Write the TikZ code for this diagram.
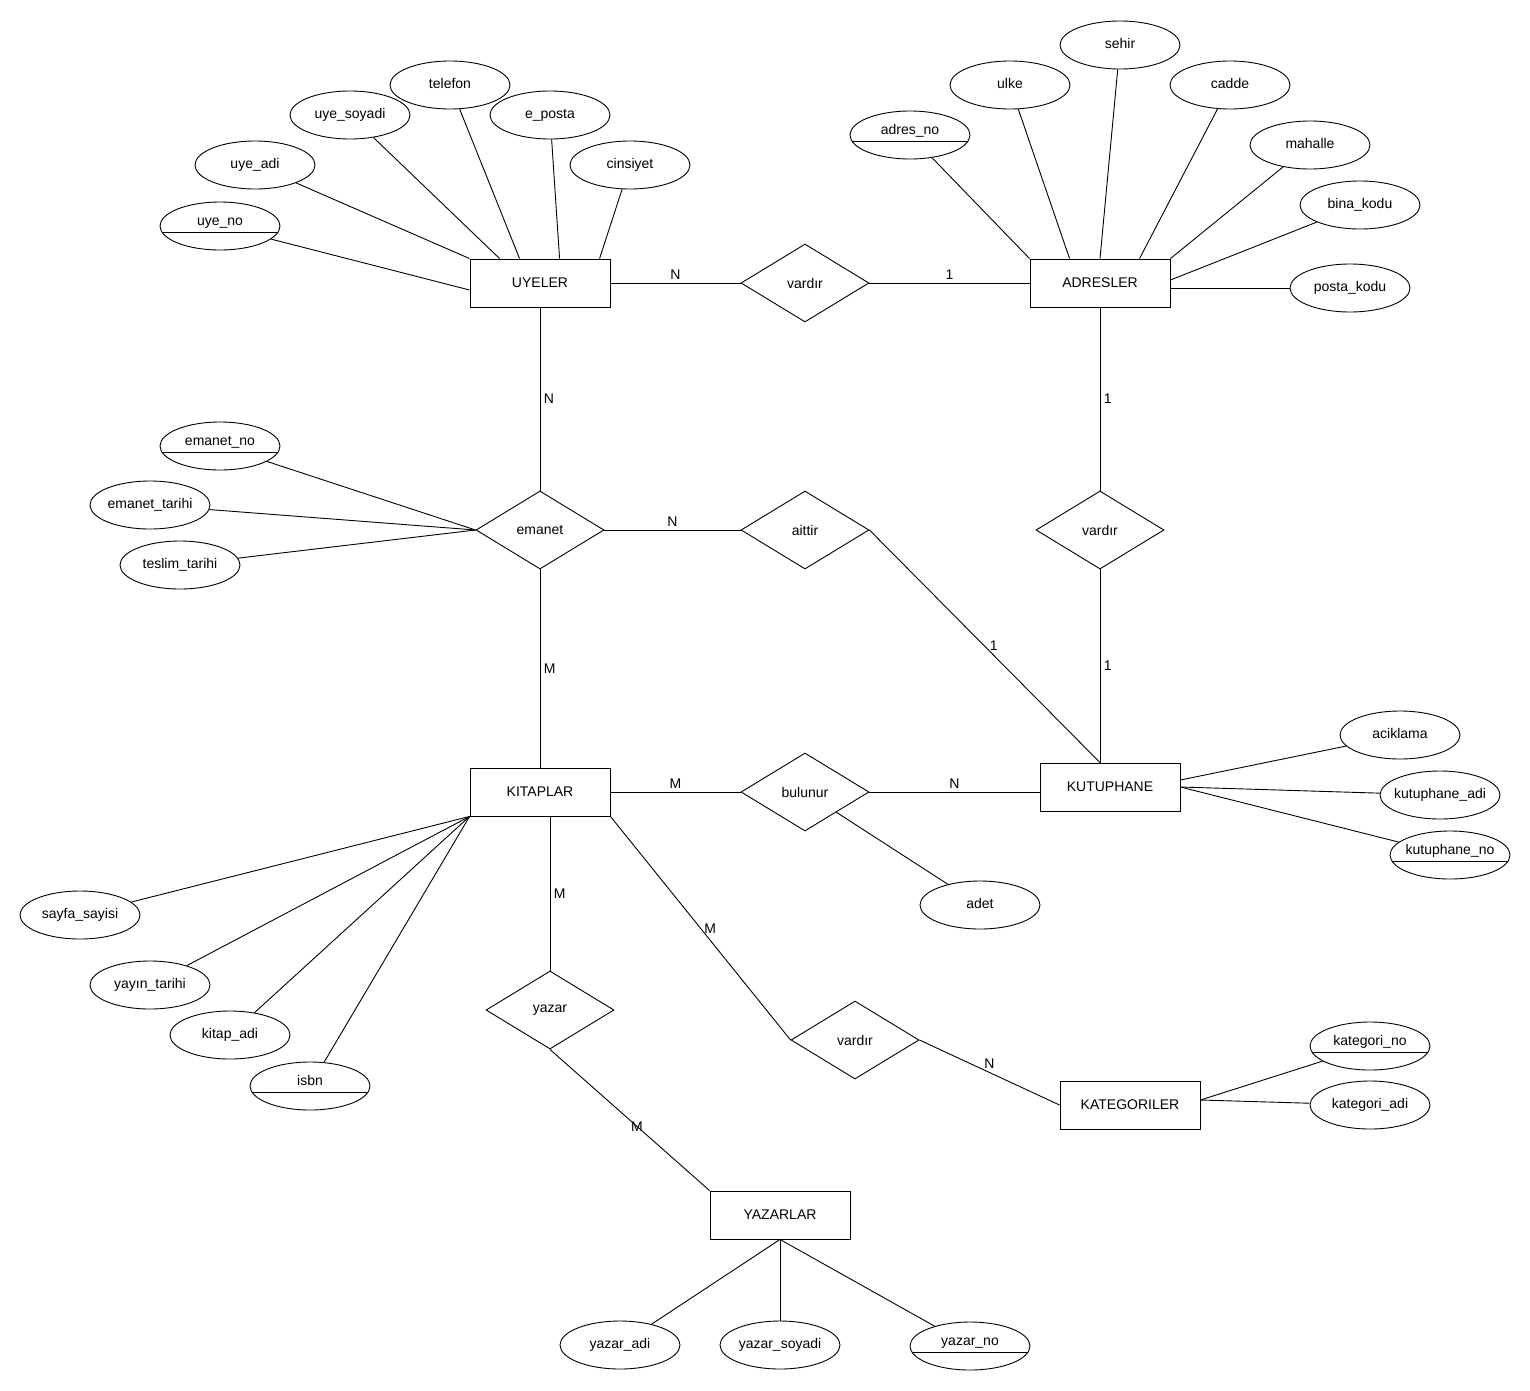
\documentclass[tikz,border=0pt]{standalone}
\usepackage{fontspec}
\setmainfont{Liberation Sans}
\usetikzlibrary{positioning,shapes.geometric}

\begin{document}
\begin{tikzpicture}[
  x=1pt, y=-1pt, on grid,
  every node/.style={font=\fontsize{14}{16}\selectfont},
  entity/.style={draw, rectangle, line width=0.9pt,
                 minimum width=140pt, minimum height=48pt, inner sep=0pt},
  relation/.style={draw, diamond, line width=0.9pt, aspect=1.6,
                   minimum width=128pt, minimum height=78pt, inner sep=0pt},
  attr/.style={draw, ellipse, line width=0.9pt,
               minimum width=120pt, minimum height=48pt,
               inner xsep=-14pt, inner ysep=0pt,
               text height=10pt, text depth=3pt},
  keyattr/.style={attr, text depth=12pt,
                  path picture={\draw[line width=0.9pt]
                    ([yshift=-6pt]path picture bounding box.west) --
                    ([yshift=-6pt]path picture bounding box.east);}},
  link/.style={line width=0.9pt},
  card/.style={inner sep=3.5pt},
]
  \path[fill=white, use as bounding box] (0,0) rectangle (1530,1390);

  %% Entities and relations
  \node[entity] (uyeler) at (540,283) {UYELER};
  \node[relation, right=265pt of uyeler] (vardirA) {vardır};
  \node[entity, right=295pt of vardirA] (adresler) {ADRESLER};
  \node[relation, below=247pt of uyeler] (emanet) {emanet};
  \node[relation, right=265pt of emanet] (aittir) {aittir};
  \node[relation, below=247pt of adresler] (vardirB) {vardır};
  \node[entity, below=262pt of emanet] (kitaplar) {KITAPLAR};
  \node[relation, right=265pt of kitaplar] (bulunur) {bulunur};
  \node[entity, above right=5pt and 305pt of bulunur] (kutuphane) {KUTUPHANE};
  \node[relation, below right=218pt and 10pt of kitaplar] (yazar) {yazar};
  \node[relation, below right=248pt and 315pt of kitaplar] (vardirC) {vardır};
  \node[entity, below right=65pt and 275pt of vardirC] (kategoriler) {KATEGORILER};
  \node[entity, below right=205pt and 230pt of yazar] (yazarlar) {YAZARLAR};

  %% UYELER attributes
  \node[keyattr, above left=57pt and 320pt of uyeler] (uyeno) {uye\_no};
  \node[attr, above left=118pt and 285pt of uyeler] (uyeadi) {uye\_adi};
  \node[attr, above left=168pt and 190pt of uyeler] (uyesoyadi) {uye\_soyadi};
  \node[attr, above left=198pt and 90pt of uyeler] (telefon) {telefon};
  \node[attr, above right=168pt and 10pt of uyeler] (eposta) {e\_posta};
  \node[attr, above right=118pt and 90pt of uyeler] (cinsiyet) {cinsiyet};

  %% ADRESLER attributes
  \node[keyattr, above left=148pt and 190pt of adresler] (adresno) {adres\_no};
  \node[attr, above left=198pt and 90pt of adresler] (ulke) {ulke};
  \node[attr, above right=238pt and 20pt of adresler] (sehir) {sehir};
  \node[attr, above right=198pt and 130pt of adresler] (cadde) {cadde};
  \node[attr, above right=138pt and 210pt of adresler] (mahalle) {mahalle};
  \node[attr, above right=78pt and 260pt of adresler] (binakodu) {bina\_kodu};
  \node[attr, below right=5pt and 250pt of adresler] (postakodu) {posta\_kodu};

  %% emanet attributes
  \node[keyattr, above left=84pt and 320pt of emanet] (emanetno) {emanet\_no};
  \node[attr, above left=25pt and 390pt of emanet] (emanettarihi) {emanet\_tarihi};
  \node[attr, below left=35pt and 360pt of emanet] (teslimtarihi) {teslim\_tarihi};

  %% KITAPLAR attributes
  \node[attr, below left=123pt and 460pt of kitaplar] (sayfasayisi) {sayfa\_sayisi};
  \node[attr, below left=193pt and 390pt of kitaplar] (yayintarihi) {yayın\_tarihi};
  \node[attr, below left=243pt and 310pt of kitaplar] (kitapadi) {kitap\_adi};
  \node[keyattr, below left=294pt and 230pt of kitaplar] (isbn) {isbn};

  %% bulunur, KUTUPHANE, KATEGORILER attributes
  \node[attr, below right=113pt and 175pt of bulunur] (adet) {adet};
  \node[attr, above right=52pt and 290pt of kutuphane] (aciklama) {aciklama};
  \node[attr, below right=8pt and 330pt of kutuphane] (kutuphaneadi) {kutuphane\_adi};
  \node[keyattr, below right=68pt and 340pt of kutuphane] (kutuphaneno) {kutuphane\_no};
  \node[keyattr, above right=59pt and 240pt of kategoriler] (kategorino) {kategori\_no};
  \node[attr, right=240pt of kategoriler] (kategoriadi) {kategori\_adi};

  %% YAZARLAR attributes
  \node[attr, below left=130pt and 160pt of yazarlar] (yazaradi) {yazar\_adi};
  \node[attr, below=130pt of yazarlar] (yazarsoyadi) {yazar\_soyadi};
  \node[keyattr, below right=131pt and 190pt of yazarlar] (yazarno) {yazar\_no};

  %% Attribute links
  \draw[link] (uyeno) -- ([yshift=-7pt]uyeler.west);
  \draw[link] (uyeadi) -- (uyeler.north west);
  \draw[link] (uyesoyadi) -- ([xshift=30pt]uyeler.north west);
  \draw[link] (telefon) -- ([xshift=50pt]uyeler.north west);
  \draw[link] (eposta) -- ([xshift=90pt]uyeler.north west);
  \draw[link] (cinsiyet) -- ([xshift=130pt]uyeler.north west);

  \draw[link] (adresno) -- (adresler.north west);
  \draw[link] (ulke) -- ([xshift=40pt]adresler.north west);
  \draw[link] (sehir) -- (adresler.north);
  \draw[link] (cadde) -- ([xshift=110pt]adresler.north west);
  \draw[link] (mahalle) -- (adresler.north east);
  \draw[link] (binakodu) -- ([yshift=3pt]adresler.east);
  \draw[link] (postakodu) -- (postakodu -| adresler.east);

  \draw[link] (emanetno) -- (emanet.west);
  \draw[link] (emanettarihi) -- (emanet.west);
  \draw[link] (teslimtarihi) -- (emanet.west);

  \draw[link] (sayfasayisi) -- (kitaplar.south west);
  \draw[link] (yayintarihi) -- (kitaplar.south west);
  \draw[link] (kitapadi) -- (kitaplar.south west);
  \draw[link] (isbn) -- (kitaplar.south west);

  \draw[link] (bulunur) -- (adet);
  \draw[link] (aciklama) -- ([yshift=7pt]kutuphane.east);
  \draw[link] (kutuphaneadi) -- (kutuphane.east);
  \draw[link] (kutuphaneno) -- (kutuphane.east);
  \draw[link] (kategorino) -- ([yshift=5pt]kategoriler.east);
  \draw[link] (kategoriadi) -- ([yshift=5pt]kategoriler.east);

  \draw[link] (yazarlar.south) -- (yazaradi);
  \draw[link] (yazarlar.south) -- (yazarsoyadi);
  \draw[link] (yazarlar.south) -- (yazarno);

  %% Relationship links with cardinalities
  \draw[link] (uyeler) -- node[card, above] {N} (vardirA);
  \draw[link] (vardirA) -- node[card, above] {1} (adresler);
  \draw[link] (uyeler) -- node[card, right] {N} (emanet);
  \draw[link] (emanet) -- node[card, right] {M} (kitaplar);
  \draw[link] (emanet) -- node[card, above] {N} (aittir);
  \draw[link] (adresler) -- node[card, right] {1} (vardirB);
  \coordinate (kuttop) at (vardirB.south |- kutuphane.north);
  \draw[link] (vardirB) -- node[card, right] {1} (kuttop);
  \draw[link] (aittir.east) -- node[card, pos=0.52, above right, inner sep=0pt] {1} (kuttop);
  \draw[link] (kitaplar) -- node[card, above] {M} (bulunur);
  \draw[link] (bulunur) -- node[card, above] {N} (bulunur -| kutuphane.west);
  \draw[link] (kitaplar.south -| yazar) -- node[card, right] {M} (yazar);
  \draw[link] (kitaplar.south east) -- node[card, right] {M} (vardirC.west);
  \draw[link] (vardirC.east) -- node[card, above] {N} (kategoriler.west);
  \draw[link] (yazar.south) -- node[card, below right, inner sep=1pt] {M} (yazarlar.north west);

\end{tikzpicture}
\end{document}
